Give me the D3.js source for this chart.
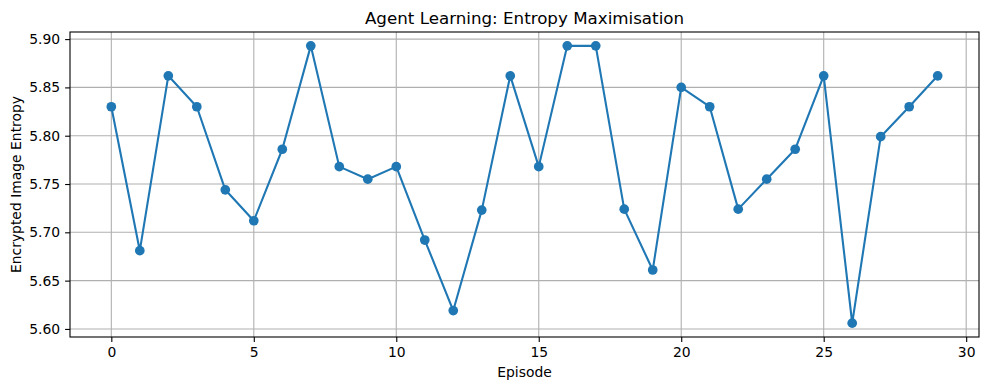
<!DOCTYPE html>
<html lang="en">
  <head>
    <meta charset="utf-8">
    <title>Agent Learning: Entropy Maximisation</title>
    <script src="https://d3js.org/d3.v7.min.js"></script>
    <style>
      body { margin: 0; background: #fff; }
      text { font-family: "DejaVu Sans", sans-serif; fill: #000; }
    </style>
  </head>
  <body>
    <script type="text/javascript">
    // chart size
    var w = 989;
    var h = 390;
    var margin = { top: 32, right: 10, bottom: 53, left: 70 };

    var episodes = d3.range(30);
    var entropy = [5.830, 5.681, 5.862, 5.830, 5.744, 5.712, 5.786, 5.893, 5.768, 5.755,
                   5.768, 5.692, 5.619, 5.723, 5.862, 5.768, 5.893, 5.893, 5.724, 5.661,
                   5.850, 5.830, 5.724, 5.755, 5.786, 5.862, 5.606, 5.799, 5.830, 5.862];
    var xTicks = [0, 5, 10, 15, 20, 25, 30];
    var yTicks = [5.60, 5.65, 5.70, 5.75, 5.80, 5.85, 5.90];

    var data = episodes.map(function(d, i) { return { x: d, y: entropy[i] }; });

    // matplotlib-ish 5% margins
    var xPad = (d3.max(episodes) - d3.min(episodes)) * 0.05;
    var yPad = (d3.max(entropy) - d3.min(entropy)) * 0.05;

    var xScale = d3.scaleLinear()
                   .domain([d3.min(episodes) - xPad, d3.max(episodes) + xPad])
                   .range([margin.left, w - margin.right]);

    var yScale = d3.scaleLinear()
                   .domain([d3.min(entropy) - yPad, d3.max(entropy) + yPad])
                   .range([h - margin.bottom, margin.top]);

    var svg = d3.select("body")
                .append("svg")
                .attr("width", w)
                .attr("height", h);

    // grid
    svg.append("g")
       .selectAll("line")
       .data(xTicks)
       .enter()
       .append("line")
       .attr("x1", function(d) { return xScale(d); })
       .attr("x2", function(d) { return xScale(d); })
       .attr("y1", margin.top)
       .attr("y2", h - margin.bottom)
       .attr("stroke", "#b0b0b0")
       .attr("stroke-width", 1.1);

    svg.append("g")
       .selectAll("line")
       .data(yTicks)
       .enter()
       .append("line")
       .attr("x1", margin.left)
       .attr("x2", w - margin.right)
       .attr("y1", function(d) { return yScale(d); })
       .attr("y2", function(d) { return yScale(d); })
       .attr("stroke", "#b0b0b0")
       .attr("stroke-width", 1.1);

    // axes
    var xAxis = d3.axisBottom(xScale)
                  .tickValues(xTicks)
                  .tickFormat(d3.format("d"))
                  .tickSize(4.9)
                  .tickPadding(4.9)
                  .tickSizeOuter(0);

    var yAxis = d3.axisLeft(yScale)
                  .tickValues(yTicks)
                  .tickFormat(d3.format(".2f"))
                  .tickSize(4.9)
                  .tickPadding(4.9)
                  .tickSizeOuter(0);

    var gx = svg.append("g")
                .attr("transform", "translate(0," + (h - margin.bottom) + ")")
                .call(xAxis);

    var gy = svg.append("g")
                .attr("transform", "translate(" + margin.left + ",0)")
                .call(yAxis);

    [gx, gy].forEach(function(g) {
      g.select(".domain").remove();
      g.selectAll(".tick line").attr("stroke", "#000").attr("stroke-width", 1.1);
      g.selectAll(".tick text")
       .style("font-family", "DejaVu Sans, sans-serif")
       .style("font-size", "13.9px")
       .attr("fill", "#000");
    });

    // frame
    svg.append("rect")
       .attr("x", margin.left)
       .attr("y", margin.top)
       .attr("width", w - margin.left - margin.right)
       .attr("height", h - margin.top - margin.bottom)
       .attr("fill", "none")
       .attr("stroke", "#000")
       .attr("stroke-width", 1.1);

    // line + markers
    var line = d3.line()
                 .x(function(d) { return xScale(d.x); })
                 .y(function(d) { return yScale(d.y); });

    svg.append("path")
       .datum(data)
       .attr("d", line)
       .attr("fill", "none")
       .attr("stroke", "#1f77b4")
       .attr("stroke-width", 2.1)
       .attr("stroke-linejoin", "round");

    svg.selectAll("circle")
       .data(data)
       .enter()
       .append("circle")
       .attr("cx", function(d) { return xScale(d.x); })
       .attr("cy", function(d) { return yScale(d.y); })
       .attr("r", 4.85)
       .attr("fill", "#1f77b4");

    // labels
    svg.append("text")
       .attr("x", (margin.left + w - margin.right) / 2)
       .attr("y", 24)
       .attr("text-anchor", "middle")
       .style("font-size", "16.7px")
       .text("Agent Learning: Entropy Maximisation");

    svg.append("text")
       .attr("x", (margin.left + w - margin.right) / 2)
       .attr("y", 377)
       .attr("text-anchor", "middle")
       .style("font-size", "13.9px")
       .text("Episode");

    svg.append("text")
       .attr("transform", "translate(21," + ((margin.top + h - margin.bottom) / 2) + ") rotate(-90)")
       .attr("text-anchor", "middle")
       .style("font-size", "13.9px")
       .text("Encrypted Image Entropy");
    </script>
  </body>
</html>
